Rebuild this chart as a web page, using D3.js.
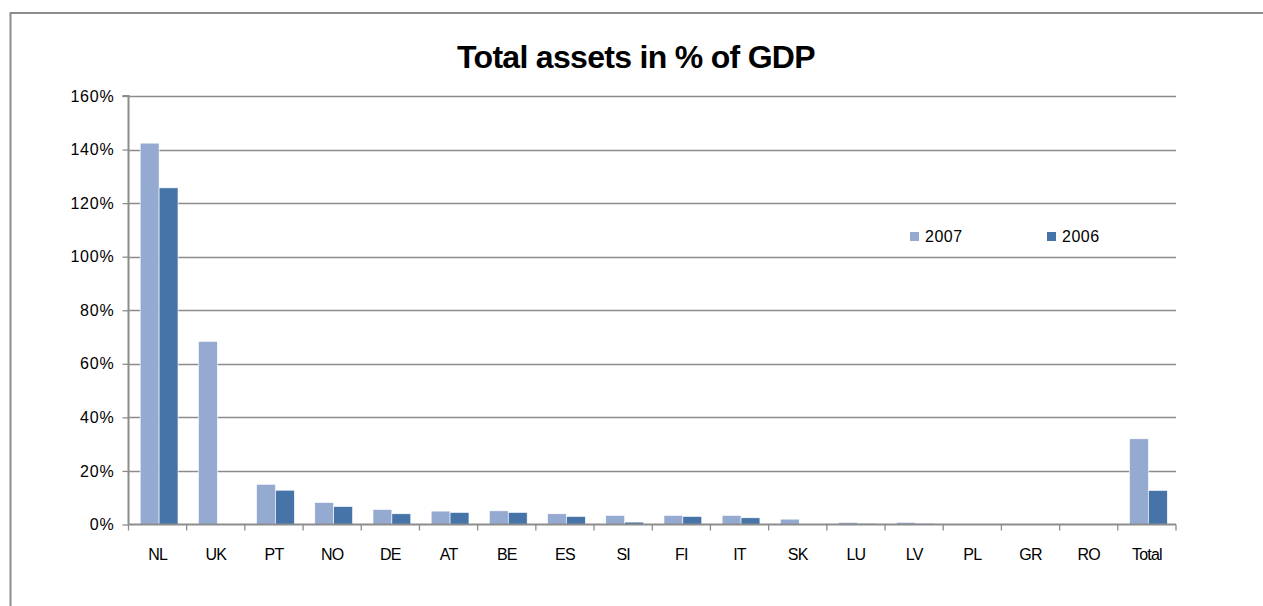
<!DOCTYPE html>
<html>
<head>
<meta charset="utf-8">
<script src="https://cdn.jsdelivr.net/npm/d3@7"></script>
<style>
  html, body { margin: 0; padding: 0; background: #fff; }
  svg { display: block; font-family: "Liberation Sans", Arial, sans-serif; }
</style>
</head>
<body>
<svg id="chart" width="1263" height="606"></svg>
<script>
// Total assets as a share of GDP, by country
const countries = ["NL", "UK", "PT", "NO", "DE", "AT", "BE", "ES", "SI", "FI", "IT", "SK", "LU", "LV", "PL", "GR", "RO", "Total"];
const values2007 = [142.4, 68.4, 15.0, 8.2, 5.6, 5.0, 5.1, 4.0, 3.4, 3.4, 3.4, 2.0, 0.8, 0.8, 0.1, 0, 0, 32.0];
const values2006 = [125.7, 0, 12.8, 6.7, 4.0, 4.5, 4.5, 3.0, 0.9, 3.0, 2.5, 0, 0.4, 0.4, 0.05, 0, 0, 12.7];
const seriesNames = ["2007", "2006"];
const seriesColors = ["#95aad1", "#4674a8"];
const yTicks = [0, 20, 40, 60, 80, 100, 120, 140, 160];

const svg = d3.select("#chart");
const margin = { left: 128.5, right: 1176, top: 96, bottom: 524.5 };

// outer chart frame
svg.append("rect")
  .attr("x", 10.5).attr("y", 13)
  .attr("width", 1300).attr("height", 700)
  .attr("fill", "none").attr("stroke", "#8c8c8c").attr("stroke-width", 2);

svg.append("text")
  .attr("x", 636).attr("y", 68)
  .attr("text-anchor", "middle")
  .attr("font-size", 32).attr("font-weight", "bold")
  .attr("letter-spacing", -0.7)
  .attr("fill", "#000")
  .text("Total assets in % of GDP");

const x = d3.scaleBand().domain(countries).range([margin.left, margin.right]).paddingInner(0).paddingOuter(0);
const inner = d3.scaleBand().domain(seriesNames).range([1.5, x.bandwidth() + 1.5]).paddingInner(0).paddingOuter(0.54);
const y = d3.scaleLinear().domain([0, 160]).range([margin.bottom, margin.top]);

// gridlines
svg.append("g").selectAll("line").data(yTicks.slice(1)).join("line")
  .attr("x1", margin.left).attr("x2", margin.right)
  .attr("y1", d => Math.round(y(d)) + 0.5).attr("y2", d => Math.round(y(d)) + 0.5)
  .attr("stroke", "#8c8c8c").attr("stroke-width", 1.3);

// bars
const rows = countries.map((c, i) => ({ c, vals: [values2007[i], values2006[i]] }));
const groups = svg.append("g").selectAll("g").data(rows).join("g")
  .attr("transform", d => `translate(${x(d.c)},0)`);
groups.selectAll("rect")
  .data(d => d.vals.map((v, k) => ({ v, k })))
  .join("rect")
  .attr("x", d => inner(seriesNames[d.k]))
  .attr("width", inner.bandwidth())
  .attr("y", d => y(d.v))
  .attr("height", d => y(0) - y(d.v))
  .attr("fill", d => seriesColors[d.k])
  .attr("stroke", d => d.v > 0 ? "#ffffff" : "none")
  .attr("stroke-width", 0.6);

// y axis
const yAxis = d3.axisLeft(y).tickValues(yTicks).tickSize(6).tickPadding(8).tickFormat(d => d + "%");
const gy = svg.append("g").attr("transform", `translate(${margin.left},0)`).call(yAxis);
gy.select(".domain").attr("stroke", "#8c8c8c").attr("stroke-width", 2).attr("d", `M-6,${margin.top}H0V${margin.bottom}`);
gy.selectAll(".tick line").attr("stroke", "#8c8c8c").attr("stroke-width", 1.3);
gy.selectAll(".tick text").attr("font-size", 16).attr("letter-spacing", 0.8).attr("fill", "#000")
  .attr("font-family", "Liberation Sans, Arial, sans-serif");

// x axis: ticks sit between categories
const xAxis = d3.axisBottom(x).tickSize(0).tickPadding(24);
const gx = svg.append("g").attr("transform", `translate(0,${margin.bottom})`).call(xAxis);
gx.select(".domain").attr("stroke", "#8c8c8c").attr("stroke-width", 2).attr("d", `M${margin.left},0H${margin.right}`);
gx.selectAll(".tick text").attr("font-size", 16).attr("letter-spacing", -0.8).attr("fill", "#000")
  .attr("font-family", "Liberation Sans, Arial, sans-serif");
const boundaries = countries.map(c => x(c) + x.bandwidth());
boundaries.unshift(x(countries[0]));
svg.append("g").selectAll("line").data(boundaries).join("line")
  .attr("x1", d => d).attr("x2", d => d)
  .attr("y1", margin.bottom).attr("y2", margin.bottom + 6)
  .attr("stroke", "#8c8c8c").attr("stroke-width", 1.3);

// legend
const legendX = [910, 1047];
const legend = svg.append("g").selectAll("g").data(seriesNames).join("g")
  .attr("transform", (d, i) => `translate(${legendX[i]},236)`);
legend.append("rect").attr("x", 0).attr("y", -4).attr("width", 9).attr("height", 9)
  .attr("fill", (d, i) => seriesColors[i]);
legend.append("text").attr("x", 15).attr("y", 6).attr("font-size", 16).attr("letter-spacing", 0.5)
  .attr("fill", "#000").text(d => d);
</script>
</body>
</html>
